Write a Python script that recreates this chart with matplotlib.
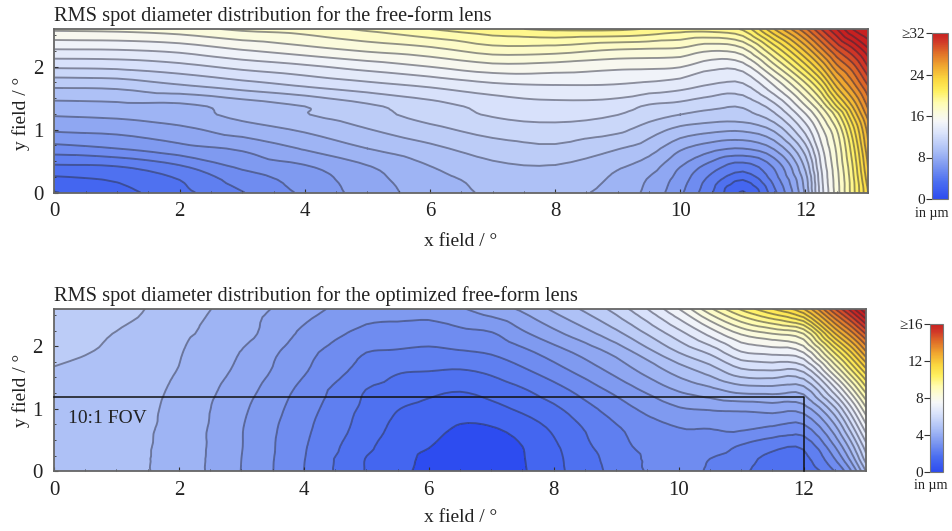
import numpy as np
import matplotlib
matplotlib.use("Agg")
import matplotlib.pyplot as plt
import matplotlib.tri as mtri
from matplotlib.colors import LinearSegmentedColormap, Normalize
from matplotlib.cm import ScalarMappable
from matplotlib.ticker import MultipleLocator

plt.rcParams['font.family'] = ['Liberation Serif', 'DejaVu Serif']

W, H = 953, 531

# ---------- free-form lens (values per x column, from bottom to top) ----------
upper_y = [0, .2, .4, .7, 1, 1.24, 1.37, 1.7, 2, 2.3, 2.6]
upper_x = [0, 1, 2, 3, 4, 5, 6, 7, 8, 9, 9.5, 10, 10.5, 11, 11.5, 12, 12.25, 12.5, 12.75, 13]
upper_z = [
    [1.95, 2.75, 3.75, 5.6, 7.15, 8.1, 8.6, 10.2, 12.15, 14.15, 16.2],
    [2.65, 3.1, 3.9, 6.0, 7.3, 8.25, 8.7, 10.3, 12.25, 14.2, 16.3],
    [3.7, 4.0, 4.8, 6.65, 7.75, 8.6, 8.75, 10.9, 12.65, 14.5, 16.6],
    [4.95, 5.45, 6.15, 7.15, 8.5, 9.3, 9.4, 11.5, 13.3, 15.2, 17.2],
    [6.2, 6.4, 6.85, 8.1, 9.15, 9.95, 10.0, 12.1, 13.8, 15.8, 17.5],
    [7.45, 7.62, 7.9, 9, 9.95, 10.6, 10.8, 12.65, 14.4, 16.4, 18.2],
    [8.45, 8.6, 8.95, 9.75, 10.7, 11.45, 11.6, 13.15, 15, 16.9, 19],
    [9.15, 9.3, 9.75, 10.5, 11.4, 12.1, 12.3, 13.75, 15.65, 17.75, 19.7],
    [9.25, 9.5, 9.9, 10.8, 11.65, 12.35, 12.65, 13.95, 15.55, 17.7, 20.2],
    [8.6, 8.78, 9.1, 10.05, 11.25, 12.02, 12.45, 13.9, 15.25, 17.2, 20.2],
    [7.7, 7.9, 8.45, 9.45, 10.5, 11.45, 11.85, 13.7, 15.2, 17.1, 19.9],
    [6.2, 6.5, 6.98, 8.15, 9.7, 11, 11.6, 13.4, 15.05, 17, 19.5],
    [4.1, 4.6, 5.45, 7.35, 9.3, 10.7, 11.2, 12.9, 14.3, 16.4, 19.5],
    [1.9, 3, 4.45, 7, 9.2, 10.7, 11.1, 12.8, 14.5, 17, 20.2],
    [4.7, 5.4, 6.1, 8.1, 10.2, 11.8, 12.6, 15, 17.6, 20.5, 24],
    [9.2, 9.5, 10.2, 11.6, 13.4, 14.9, 15.9, 18.6, 21.6, 24.6, 27.8],
    [13.5, 13.7, 14, 14.7, 15.7, 17, 18, 21, 24, 27, 30],
    [16.5, 16.6, 16.8, 17.2, 18, 19.5, 21, 24.2, 26.7, 29.3, 32],
    [19.5, 19.6, 19.9, 20.5, 21.5, 23, 24, 26.5, 28.5, 31, 34],
    [23, 23.5, 24, 24.7, 25.4, 26.5, 27.2, 29, 31, 33, 35],
]

# ---------- optimized free-form lens ----------
lower_y = [0, .2, .4, .7, 1, 1.3, 1.6, 1.9, 2.2, 2.6]
lower_x = [0, 1, 2, 3, 4, 5, 5.5, 6, 6.5, 7, 7.5, 8, 9, 10, 10.5, 11, 11.5, 12, 12.5, 12.75, 13]
lower_z = [
    [4.8, 4.8, 4.8, 4.82, 4.85, 4.9, 4.97, 5.12, 5.25, 5.45],
    [4.65, 4.65, 4.66, 4.68, 4.72, 4.76, 4.82, 4.9, 4.98, 5.2],
    [4.3, 4.3, 4.31, 4.33, 4.35, 4.4, 4.48, 4.53, 4.6, 4.73],
    [3.49, 3.5, 3.52, 3.53, 3.6, 3.72, 3.87, 3.98, 4.18, 4.27],
    [2.5, 2.52, 2.55, 2.62, 2.72, 2.85, 3.05, 3.18, 3.4, 3.7],
    [1.47, 1.48, 1.62, 1.78, 1.88, 1.99, 2.3, 2.5, 2.86, 3.22],
    [1.15, 1.17, 1.22, 1.37, 1.52, 1.8, 2.05, 2.44, 2.8, 3.2],
    [.85, .9, 1.02, 1.2, 1.35, 1.63, 2.0, 2.37, 2.77, 3.2],
    [.72, .74, .78, .96, 1.22, 1.53, 1.95, 2.45, 2.85, 3.45],
    [.7, .72, .8, .98, 1.35, 1.7, 2.1, 2.55, 2.95, 3.75],
    [.95, .97, 1.0, 1.2, 1.6, 1.95, 2.4, 2.85, 3.4, 4.1],
    [1.35, 1.37, 1.42, 1.6, 1.9, 2.3, 2.77, 3.25, 3.85, 4.6],
    [2.15, 2.2, 2.32, 2.45, 2.75, 3.15, 3.65, 4.15, 4.85, 5.7],
    [2.75, 2.78, 2.85, 3.0, 3.45, 4.05, 4.7, 5.5, 6.3, 7.5],
    [2.42, 2.5, 2.78, 3.02, 3.55, 4.35, 5.2, 6.1, 7.15, 8.9],
    [2.1, 2.22, 2.45, 3.1, 3.6, 4.7, 5.85, 6.95, 8.05, 10.1],
    [1.75, 1.85, 2.15, 2.95, 3.7, 4.75, 5.95, 7.15, 8.5, 11],
    [1.65, 1.85, 2.1, 2.85, 3.75, 4.75, 6.05, 7.5, 9, 12],
    [2.5, 3, 3.5, 4.35, 5.4, 6.8, 8.4, 10.05, 11.95, 14.5],
    [3.4, 4.1, 4.7, 5.7, 6.8, 8.2, 9.8, 11.4, 13.2, 15.7],
    [5, 5.75, 6.3, 7.3, 8.4, 9.75, 11.25, 12.9, 14.55, 17],
]

upper_levels = list(range(2, 39))
lower_levels = [0.5 * i for i in range(2, 35)]
upper_ticks = [0, 8, 16, 24, 32]
lower_ticks = [0, 4, 8, 12, 16]
upper_ticklabels = ['0', '8', '16', '24', '≥32']
lower_ticklabels = ['0', '4', '8', '12', '≥16']
fov_x = [0, 12, 12]
fov_y = [1.19, 1.19, 0]

cmap = LinearSegmentedColormap.from_list('rms', [
    (0.00, '#2d4cf0'), (0.10, '#4a6df0'), (0.20, '#7d98f0'), (0.30, '#afc2f6'),
    (0.40, '#dbe4fb'), (0.47, '#f6f7f8'), (0.52, '#fbfbdc'), (0.58, '#fffcb0'),
    (0.65, '#fff060'), (0.72, '#fbd840'), (0.80, '#f0a830'), (0.88, '#e07028'),
    (0.95, '#d03828'), (1.00, '#c82020')])


def rect(l, t, r, b):
    return [l / W, 1 - b / H, (r - l) / W, (b - t) / H]


fig = plt.figure(figsize=(W / 100, H / 100), dpi=100)
TXT = '#222222'
FS = 14.0


def panel(pos, xs, ys, zcols, levels, vmax, title, title_y, xlab_y, ylab_x, ylab_y):
    ax = fig.add_axes(rect(*pos))
    Z = np.array(zcols).T
    X, Y = np.meshgrid(xs, ys)
    tri = mtri.Triangulation(X.ravel(), Y.ravel())
    interp = mtri.CubicTriInterpolator(tri, Z.ravel(), kind='geom')
    rtri, rz = mtri.UniformTriRefiner(tri).refine_field(Z.ravel(), triinterpolator=interp, subdiv=2)
    norm = Normalize(0, vmax)
    ax.tricontourf(rtri, rz, levels=[-5] + levels + [1000], cmap=cmap, norm=norm)
    ax.tricontour(rtri, rz, levels=levels, colors=[(0.16, 0.17, 0.25)], linewidths=1.35, alpha=0.5)
    ax.set_xlim(0, 13)
    ax.set_ylim(0, 2.6)
    ax.set_xticks(range(0, 13, 2))
    ax.set_yticks([0, 1, 2])
    ax.xaxis.set_minor_locator(MultipleLocator(0.5))
    ax.yaxis.set_minor_locator(MultipleLocator(0.25))
    ax.tick_params(which='major', direction='in', length=3, width=0.8, color='#333333',
                   labelsize=15, labelcolor=TXT)
    ax.tick_params(axis='x', which='major', pad=7)
    ax.tick_params(axis='y', which='major', pad=8)
    ax.tick_params(which='minor', direction='in', length=1.5, width=0.6, color='#333333')
    for s in ax.spines.values():
        s.set_color('#666666')
        s.set_linewidth(1.3)
    fig.text(pos[0] / W, 1 - title_y / H, title, fontsize=14.7, color=TXT, ha='left', va='center')
    fig.text(461 / W, 1 - xlab_y / H, 'x field / °', fontsize=FS, color=TXT, ha='center', va='center')
    fig.text(ylab_x / W, 1 - ylab_y / H, 'y field / °', fontsize=FS, color=TXT, ha='center',
             va='center', rotation=90)
    return ax, norm


def cbar(pos, norm, ticks, labels, lab_x, lab_y):
    cax = fig.add_axes(rect(*pos))
    cb = fig.colorbar(ScalarMappable(norm=norm, cmap=cmap), cax=cax, orientation='vertical')
    cb.set_ticks(ticks)
    cb.set_ticklabels(labels)
    cax.yaxis.set_ticks_position('left')
    cax.tick_params(length=4, width=0.8, color='#333333', labelsize=11, pad=1, labelcolor=TXT)
    cb.outline.set_edgecolor('#777777')
    cb.outline.set_linewidth(0.8)
    fig.text(lab_x / W, 1 - lab_y / H, 'in µm', fontsize=10.2, color=TXT, ha='center', va='center')


ax1, n1 = panel((54.5, 29, 868, 192.5), upper_x, upper_y, upper_z, upper_levels, 32,
                'RMS spot diameter distribution for the free-form lens', 16, 241, 21, 113)
ax2, n2 = panel((54, 308.7, 866, 471.3), lower_x, lower_y, lower_z, lower_levels, 16,
                'RMS spot diameter distribution for the optimized free-form lens', 296, 517, 21, 390)
ax2.plot(fov_x, fov_y, color='#111111', lw=1.1, clip_on=False, zorder=5)
ax2.text(0.23, 0.85, '10:1 FOV', fontsize=FS, color=TXT, va='center', ha='left', zorder=6)

cbar((932, 33, 948, 199), n1, upper_ticks, upper_ticklabels, 932, 214)
cbar((930, 324, 943, 472), n2, lower_ticks, lower_ticklabels, 931, 486)

fig.savefig('out.png', dpi=100)
